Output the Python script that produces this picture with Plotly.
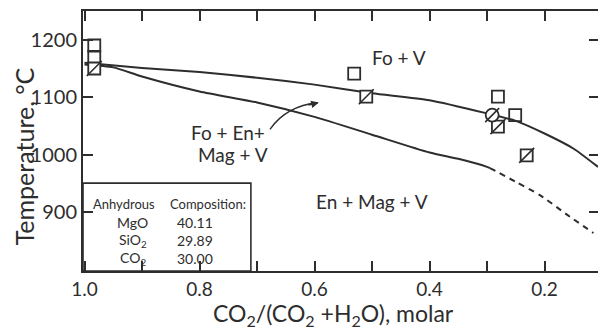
import plotly.graph_objects as go

# ---------------- data ----------------
upper_x = [1.0, 0.9, 0.8, 0.7, 0.6, 0.5, 0.4, 0.3, 0.25, 0.2, 0.15, 0.107]
upper_T = [1160, 1151, 1144, 1134, 1122, 1107, 1095, 1072, 1059, 1037, 1011, 979]

lower_x = [1.0, 0.95, 0.9, 0.8, 0.7, 0.6, 0.5, 0.4, 0.35, 0.3, 0.295]
lower_T = [1157, 1152, 1136, 1110, 1091, 1066, 1035, 1004, 993, 979, 977]

dashed_x = [0.295, 0.25, 0.208, 0.161, 0.115]
dashed_T = [977, 953, 930, 896, 864]

open_sq_x = [0.983, 0.983, 0.531, 0.281, 0.251]
open_sq_T = [1190, 1170, 1141, 1101, 1069]

half_sq_x = [0.983, 0.510, 0.281, 0.231]
half_sq_T = [1150, 1101, 1049, 999]

half_circ_x = [0.291]
half_circ_T = [1069]

x_ticks = [1.0, 0.9, 0.8, 0.7, 0.6, 0.5, 0.4, 0.3, 0.2]
x_labels = ["1.0", "", "0.8", "", "0.6", "", "0.4", "", "0.2"]
y_ticks = [900, 1000, 1100, 1200]
y_labels = ["900", "1000", "1100", "1200"]

inset_names = ["MgO", "SiO<sub>2</sub>", "CO<sub>2</sub>"]
inset_values = ["40.11", "29.89", "30.00"]

# ---------------- style ----------------
INK = "#2d2d2d"
FONT = "Lato"
X_RANGE = [1.0026, 0.107]
Y_RANGE = [798, 1250]

fig = go.Figure()

fig.add_trace(go.Scatter(x=upper_x, y=upper_T, mode="lines",
                         line=dict(color=INK, width=2, shape="spline", smoothing=0.6),
                         showlegend=False, hoverinfo="skip"))
fig.add_trace(go.Scatter(x=lower_x, y=lower_T, mode="lines",
                         line=dict(color=INK, width=2, shape="spline", smoothing=0.6),
                         showlegend=False, hoverinfo="skip"))
fig.add_trace(go.Scatter(x=dashed_x, y=dashed_T, mode="lines",
                         line=dict(color=INK, width=2, dash="6px,5px", shape="spline", smoothing=0.6),
                         showlegend=False, hoverinfo="skip"))

# markers
fig.add_trace(go.Scatter(x=open_sq_x, y=open_sq_T, mode="markers",
                         marker=dict(symbol="square-open", size=12, color=INK, line=dict(width=1.8, color=INK)),
                         showlegend=False))
fig.add_trace(go.Scatter(x=half_sq_x, y=half_sq_T, mode="markers",
                         marker=dict(symbol="square", size=12, color="white", line=dict(width=1.8, color=INK)),
                         showlegend=False))
fig.add_trace(go.Scatter(x=half_sq_x, y=half_sq_T, mode="markers",
                         marker=dict(symbol="line-ne", size=15, color=INK, line=dict(width=1.6, color=INK)),
                         showlegend=False))
fig.add_trace(go.Scatter(x=half_circ_x, y=half_circ_T, mode="markers",
                         marker=dict(symbol="circle", size=13, color="white", line=dict(width=1.8, color=INK)),
                         showlegend=False))
fig.add_trace(go.Scatter(x=half_circ_x, y=half_circ_T, mode="markers",
                         marker=dict(symbol="line-ne", size=14, color=INK, line=dict(width=1.6, color=INK)),
                         showlegend=False))
# invisible trace to activate right-hand tick axis
fig.add_trace(go.Scatter(x=[None], y=[None], yaxis="y2", showlegend=False, hoverinfo="skip"))


def txt(x, y, text, size, data=False, **kw):
    d = dict(x=x, y=y, xref="x" if data else "paper", yref="y" if data else "paper",
             text=text, showarrow=False, xanchor="center", yanchor="middle",
             font=dict(size=size, color=INK, family=FONT))
    d.update(kw)
    return d


annotations = [
    txt(0.453, 1170, "Fo + V", 19, data=True),
    txt(0.750, 1038, "Fo + En+", 19, data=True),
    txt(0.742, 1000, "Mag + V", 19, data=True),
    txt(0.50, 918, "En + Mag + V", 19, data=True),
    # arrow head
    dict(x=0.458, y=0.648, xref="paper", yref="paper", text="", showarrow=True,
         ax=-12, ay=3, arrowhead=2, arrowsize=1.1, arrowwidth=1.4, arrowcolor=INK, standoff=0),
    # axis titles
    txt(-0.114, 0.442, "Temperature, °C", 25, textangle=-90),
    txt(0.487, -0.168, "CO<sub>2</sub>/(CO<sub>2</sub> +H<sub>2</sub>O), molar", 23),
    # inset header
    txt(0.080, 0.258, "Anhydrous", 13),
    txt(0.242, 0.258, "Composition:", 13),
]
row_y = [0.185, 0.119, 0.05]
for name, val, ry in zip(inset_names, inset_values, row_y):
    annotations.append(txt(0.097, ry, name, 14))
    annotations.append(txt(0.218, ry, val, 14))

shapes = [
    dict(type="rect", xref="paper", yref="paper", x0=0, x1=0.326, y0=0, y1=0.338,
         line=dict(color=INK, width=1.6), fillcolor="rgba(0,0,0,0)"),
    dict(type="path", xref="paper", yref="paper",
         path="M 0.363 0.545 Q 0.395 0.635 0.456 0.647",
         line=dict(color=INK, width=1.4)),
]

fig.update_layout(
    width=598, height=330,
    margin=dict(l=83, r=0, t=11, b=59),
    paper_bgcolor="white", plot_bgcolor="white",
    font=dict(family=FONT, color=INK),
    annotations=annotations,
    shapes=shapes,
    xaxis=dict(range=X_RANGE, tickvals=x_ticks, ticktext=x_labels, ticks="inside", ticklen=10,
               tickwidth=1.5, tickcolor=INK, showline=True, linewidth=2, linecolor=INK,
               mirror="ticks", showgrid=False, zeroline=False,
               tickfont=dict(size=19, color=INK, family=FONT)),
    yaxis=dict(range=Y_RANGE, tickvals=y_ticks, ticktext=y_labels, ticks="inside", ticklen=10,
               tickwidth=1.5, tickcolor=INK, showline=True, linewidth=2, linecolor=INK,
               showgrid=False, zeroline=False,
               tickfont=dict(size=20, color=INK, family=FONT)),
    yaxis2=dict(range=Y_RANGE, overlaying="y", side="right", tickvals=y_ticks, ticks="inside",
                ticklen=9, tickwidth=1.5, tickcolor=INK, showticklabels=False, showline=False,
                showgrid=False, zeroline=False),
)

fig.write_html("out.html")
